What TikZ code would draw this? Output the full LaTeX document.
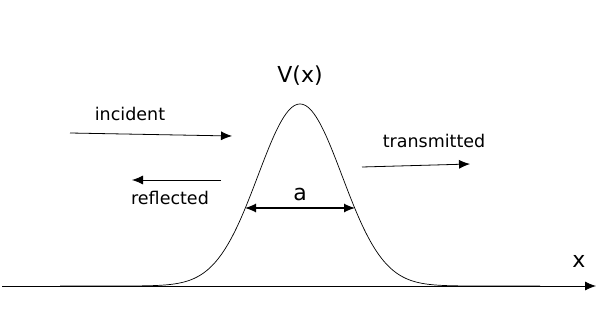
\documentclass[tikz,border=0pt]{standalone}
\usepackage{fontspec}
\setmainfont{DejaVu Sans}
\usetikzlibrary{arrows.meta,positioning,calc}
\tikzstyle{lbl}=[inner sep=0pt,font=\fontsize{17.5}{20}\selectfont]
\tikzstyle{big}=[inner sep=0pt,font=\fontsize{22}{26}\selectfont]
\tikzstyle{arr}=[-{Latex[length=11pt,width=9pt]},line width=0.8pt]

\begin{document}
\begin{tikzpicture}[x=1pt,y=-1pt]
\useasboundingbox (0,0) rectangle (602,332);
% axis
\coordinate (xl) at (2,286);
\coordinate (xr) at (596,286);
\draw [arr] (xl) -- (xr);
\node (xlab) [big] at (579,261) {x};
% barrier
\draw [line width=0.7pt] plot [domain=60:540,samples=241,smooth]
  ({\x},{286-182*exp(-((\x-300)/42)*((\x-300)/42)/2)});
\node (V) [big] at (300,76) {V(x)};
% width
\coordinate (al) at (245,208);
\coordinate (ar) at (355,208);
\draw [{Latex[length=11pt,width=9pt]}-{Latex[length=11pt,width=9pt]},line width=1.2pt] (al) -- (ar);
\node (a) [big, above=7pt of $(al)!0.5!(ar)$] {a};
% waves
\coordinate (i1) at (70,133);
\coordinate (i2) at (232,136);
\draw [arr] (i1) -- (i2);
\node (inc) [lbl] at (130,114) {incident};
\coordinate (r1) at (221,180);
\coordinate (r2) at (132,180);
\draw [arr] (r1) -- (r2);
\node (refl) [lbl] at (170,198) {reflected};
\coordinate (t1) at (362,167);
\coordinate (t2) at (470,164);
\draw [arr] (t1) -- (t2);
\node (trans) [lbl] at (434,141) {transmitted};
\end{tikzpicture}
\end{document}
